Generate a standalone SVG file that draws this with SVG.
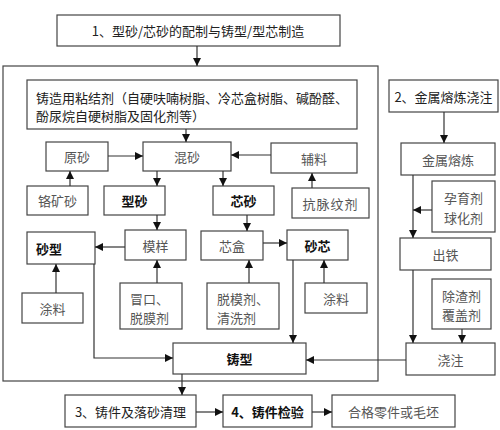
<svg xmlns="http://www.w3.org/2000/svg" width="500" height="430" viewBox="0 0 500 430">
<style>
.b{fill:#fff;stroke:#444;stroke-width:1.2}
.c{fill:none;stroke:#333;stroke-width:1.2}
text{font-family:"Noto Sans CJK SC","Liberation Sans",sans-serif;font-size:13px;fill:#555;text-anchor:middle;dominant-baseline:central}
.k{fill:#111;font-weight:bold}
.h{fill:#222}
.s{text-anchor:start}
</style>
<defs>
<marker id="a" viewBox="0 0 10 10" refX="10" refY="5" markerWidth="8" markerHeight="8" markerUnits="userSpaceOnUse" orient="auto"><path d="M0,0L10,5L0,10z" fill="#111"/></marker>
</defs>
<rect width="500" height="430" fill="#fff"/>
<rect class="b" x="3" y="66" width="375" height="315"/>
<g id="n1"><rect class="b" x="57" y="15" width="283" height="31"/><text class="h" x="198" y="30.5">1、型砂/芯砂的配制与铸型/型芯制造</text></g>
<g id="binder"><rect class="b" x="27" y="80" width="330" height="49"/><text class="h s" x="36" y="97">铸造用粘结剂（自硬呋喃树脂、冷芯盒树脂、碱酚醛、</text><text class="h s" x="36" y="115">酚尿烷自硬树脂及固化剂等）</text></g>
<g id="yuansha"><rect class="b" x="46" y="142" width="62" height="29"/><text x="77" y="156.5">原砂</text></g>
<g id="hunsha"><rect class="b" x="143" y="142" width="88" height="29"/><text x="187" y="156.5">混砂</text></g>
<g id="fuliao"><rect class="b" x="271" y="143" width="86" height="30"/><text x="314" y="158">辅料</text></g>
<g id="gekuang"><rect class="b" x="27" y="186" width="61" height="29"/><text x="57.5" y="200.5">铬矿砂</text></g>
<g id="xingsha"><rect class="b" x="104" y="186" width="61" height="29"/><text class="k" x="134.5" y="200.5">型砂</text></g>
<g id="xinsha"><rect class="b" x="213" y="186" width="61" height="29"/><text class="k" x="243.5" y="200.5">芯砂</text></g>
<g id="kangmai"><rect class="b" x="292" y="188" width="77" height="30"/><text x="330.5" y="203" letter-spacing="1">抗脉纹剂</text></g>
<g id="shaxing"><rect class="b" x="27" y="232" width="68" height="32"/><text class="k s" x="36" y="248">砂型</text></g>
<g id="muyang"><rect class="b" x="125" y="230" width="61" height="30"/><text x="155.5" y="245">模样</text></g>
<g id="xinhe"><rect class="b" x="201" y="231" width="62" height="29"/><text x="232" y="245.5">芯盒</text></g>
<g id="shaxin"><rect class="b" x="287" y="230" width="61" height="30"/><text class="k" x="317.5" y="245">砂芯</text></g>
<g id="tuliao1"><rect class="b" x="22" y="293" width="61" height="30"/><text x="52.5" y="308">涂料</text></g>
<g id="maokou"><rect class="b" x="120" y="283" width="62" height="46"/><text class="s" x="130" y="298">冒口、</text><text class="s" x="130" y="317">脱膜剂</text></g>
<g id="tuomo"><rect class="b" x="207" y="283" width="72" height="46"/><text class="s" x="217" y="298">脱模剂、</text><text class="s" x="217" y="317">清洗剂</text></g>
<g id="tuliao2"><rect class="b" x="305" y="283" width="62" height="30"/><text x="336" y="298">涂料</text></g>
<g id="zhuxing"><rect class="b" x="173" y="343" width="133" height="31"/><text class="k" x="239.5" y="358.5">铸型</text></g>
<g id="n2"><rect class="b" x="389" y="80" width="109" height="32"/><text class="h" x="443.5" y="96">2、金属熔炼浇注</text></g>
<g id="ronglian"><rect class="b" x="401" y="143" width="94" height="32"/><text x="448" y="159">金属熔炼</text></g>
<g id="yunyu"><rect class="b" x="432" y="181" width="63" height="51"/><text x="463.5" y="197">孕育剂</text><text x="463.5" y="217">球化剂</text></g>
<g id="chutie"><rect class="b" x="400" y="238" width="91" height="32"/><text x="445.5" y="254">出铁</text></g>
<g id="chuzha"><rect class="b" x="432" y="279" width="59" height="50"/><text x="461.5" y="295">除渣剂</text><text x="461.5" y="314">覆盖剂</text></g>
<g id="jiaozhu"><rect class="b" x="406" y="343" width="89" height="32"/><text x="450.5" y="359">浇注</text></g>
<g id="n3"><rect class="b" x="65" y="395" width="131" height="32"/><text class="h" x="130.5" y="411">3、铸件及落砂清理</text></g>
<g id="n4"><rect class="b" x="223" y="395" width="89" height="32"/><text class="k" x="267.5" y="411">4、铸件检验</text></g>
<g id="hege"><rect class="b" x="332" y="395" width="123" height="32"/><text x="393.5" y="411">合格零件或毛坯</text></g>
<g id="connectors">
<path class="c" marker-end="url(#a)" d="M197,46V66"/>
<path class="c" marker-end="url(#a)" d="M186,129V142"/>
<path class="c" marker-end="url(#a)" d="M108,156H143"/>
<path class="c" marker-end="url(#a)" d="M271,155H231"/>
<path class="c" marker-end="url(#a)" d="M70,186V171"/>
<path class="c" marker-end="url(#a)" d="M157,171V186"/>
<path class="c" marker-end="url(#a)" d="M223,171V186"/>
<path class="c" marker-end="url(#a)" d="M312,188V173"/>
<path class="c" marker-end="url(#a)" d="M157,215V230"/>
<path class="c" marker-end="url(#a)" d="M247,215V231"/>
<path class="c" marker-end="url(#a)" d="M125,247H95"/>
<path class="c" marker-end="url(#a)" d="M263,243H287"/>
<path class="c" marker-end="url(#a)" d="M56,293V264"/>
<path class="c" marker-end="url(#a)" d="M157,283V260"/>
<path class="c" marker-end="url(#a)" d="M249,283V260"/>
<path class="c" marker-end="url(#a)" d="M324,283V260"/>
<path class="c" marker-end="url(#a)" d="M94,264V358H173"/>
<path class="c" marker-end="url(#a)" d="M293,260V343"/>
<path class="c" marker-end="url(#a)" d="M182,374V395"/>
<path class="c" marker-end="url(#a)" d="M196,412H223"/>
<path class="c" marker-end="url(#a)" d="M312,412H332"/>
<path class="c" marker-end="url(#a)" d="M444,112V143"/>
<path class="c" marker-end="url(#a)" d="M413,175V238"/>
<path class="c" marker-end="url(#a)" d="M432,210H413"/>
<path class="c" marker-end="url(#a)" d="M413,270V343"/>
<path class="c" marker-end="url(#a)" d="M462,329V343"/>
<path class="c" marker-end="url(#a)" d="M406,360H306"/>
</g>
</svg>
